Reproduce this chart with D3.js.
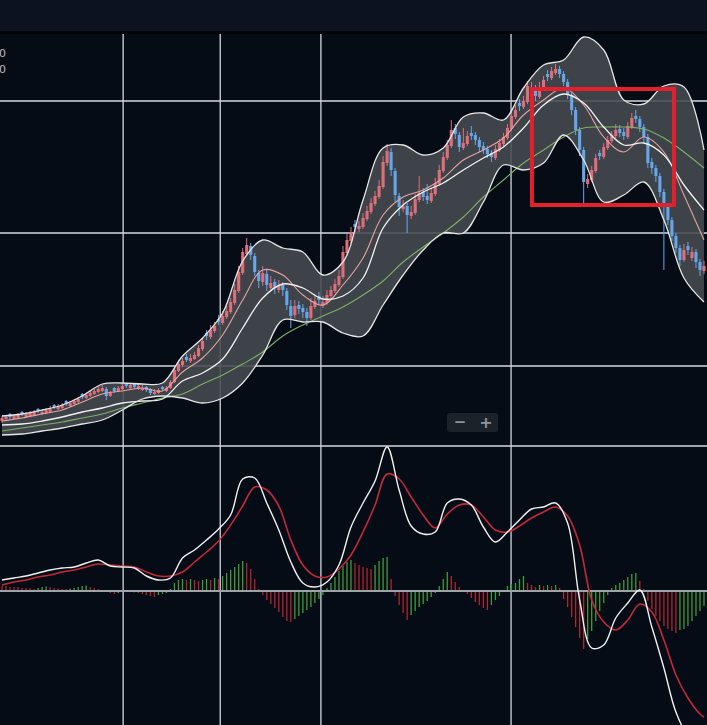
<!DOCTYPE html>
<html>
<head>
<meta charset="utf-8">
<script src="https://cdn.jsdelivr.net/npm/d3@7"></script>
<style>
  html, body { margin: 0; padding: 0; background: #060c16; overflow: hidden; }
</style>
</head>
<body>
<div id="chart"></div>
<script>
// candles: [open, high, low, close]
var candles = [
  [25,30,23,28],[27,31,25,29],[32,33,27,29],[27,32,26,30],[28,33,27,31],[34,35,30,32],[29,34,28,32],[30,35,29,33],
  [31,36,30,34],[37,38,33,35],[32,36,31,34],[33,38,32,36],[34,40,33,37],[41,42,37,39],[37,42,36,40],[38,43,37,41],
  [45,46,40,42],[40,45,39,43],[42,47,41,45],[44,49,43,47],[52,53,47,49],[48,53,47,51],[50,55,49,53],[52,57,51,55],
  [54,60,53,57],[55,61,54,58],[57,59,46,50],[50,55,49,53],[58,59,53,55],[55,60,54,58],[57,62,56,60],[62,63,58,60],
  [58,63,57,61],[62,63,57,59],[57,62,56,60],[56,61,55,58],[59,60,54,56],[57,58,51,53],[52,57,51,54],[53,58,52,56],
  [59,60,55,57],[55,60,54,58],[58,66,57,64],[64,80,63,76],[75,86,74,82],[81,88,79,85],[89,92,84,86],[85,92,83,88],
  [87,94,86,91],[90,101,89,98],[97,108,95,105],[113,116,106,110],[109,121,107,116],[115,124,113,120],[127,131,121,124],[123,135,121,130],
  [129,140,127,135],[134,148,132,144],[143,162,141,156],[155,180,153,174],[173,198,171,194],[192,208,190,201],[200,203,186,191],[190,193,170,174],
  [173,176,158,165],[164,180,160,173],[172,176,155,161],[158,170,155,163],[164,167,152,158],[156,166,153,160],[161,164,150,156],[155,158,136,141],
  [140,146,118,130],[131,146,128,140],[141,145,132,137],[138,142,128,134],[134,138,120,128],[128,148,126,140],[139,152,137,145],[150,154,142,146],
  [140,150,138,144],[143,156,141,151],[150,160,148,156],[155,167,153,162],[161,176,159,170],[169,200,167,194],[193,212,190,206],[205,219,202,214],
  [222,226,214,219],[217,225,214,220],[219,233,217,228],[227,240,225,235],[234,248,232,243],[242,255,240,250],[249,266,247,260],[259,290,257,284],
  [283,302,280,295],[294,298,270,276],[275,278,244,251],[250,253,230,239],[237,246,234,240],[240,243,213,231],[230,240,227,234],[233,252,231,247],
  [246,270,244,253],[254,258,245,249],[250,262,242,246],[245,258,243,253],[252,268,250,263],[262,281,260,276],[275,294,273,289],[288,306,286,301],
  [300,326,298,316],[318,322,307,312],[311,314,294,299],[298,318,296,303],[302,315,300,310],[313,320,306,310],[311,314,301,306],[306,309,294,299],
  [300,304,292,296],[297,300,288,292],[293,296,284,289],[288,301,286,297],[296,307,294,303],[302,313,300,309],[308,322,306,318],[317,335,315,330],
  [329,341,327,336],[343,347,335,340],[339,350,337,345],[344,365,342,360],[352,364,350,359],[358,361,345,350],[349,364,347,359],[358,370,356,366],
  [372,376,365,369],[368,379,366,375],[373,382,371,377],[377,380,368,372],[372,375,360,364],[364,367,347,351],[351,354,331,336],[336,339,311,316],
  [316,319,290,296],[296,299,241,264],[262,272,258,267],[266,280,264,276],[275,292,273,288],[293,296,286,290],[289,303,287,299],[298,310,296,306],
  [305,315,303,311],[310,322,308,316],[317,321,309,313],[314,318,306,310],[309,324,307,320],[319,333,317,328],[330,336,323,327],[327,330,314,319],
  [319,322,304,309],[309,312,278,283],[284,288,272,278],[278,281,264,270],[270,273,249,254],[254,257,176,240],[240,243,221,226],[226,229,205,210],
  [210,213,193,198],[198,201,180,186],[186,202,184,196],[200,204,191,196],[188,199,185,194],[194,197,178,184],[184,187,170,176],[175,185,172,180]
];

// bollinger / moving averages, one value every 5th candle
var bollUpper = [30,32,36,41,50,62,63,62,63,90,108,133,185,206,198,194,171,184,246,298,301,291,298,329,333,326,358,381,386,409,396,346,342,360,359,296];
var bollLower = [11,12,15,18,22,26,36,47,50,48,43,48,63,91,126,124,124,113,110,141,171,196,213,213,244,281,276,283,311,286,244,251,264,226,168,144];
var bollMid   = [21,22,25,29,34,38,43,45,47,65,73,87,118,148,162,158,147,150,168,218,241,254,263,276,288,299,318,341,352,343,319,301,303,291,261,236];
var maFast    = [25,28,32,36,44,52,55,58,55,74,88,111,146,176,171,151,141,161,188,231,249,256,268,286,296,308,331,346,358,341,309,294,309,294,251,206];
var maSlow    = [15,18,21,24,28,32,38,43,48,52,62,71,82,94,110,121,130,139,151,165,184,199,213,229,249,266,283,296,309,318,319,319,317,308,294,278];

// MACD lines, one value every 3rd candle (last one = last candle)
var macdDif = [11,13,15,18,21,23,24,28,31,25,24,23,15,11,13,33,41,51,62,76,112,113,88,61,29,8,4,9,26,64,
               88,110,144,101,65,57,59,88,92,86,64,49,59,71,82,84,88,68,-9,-57,-54,-27,-12,1,-36,-77,-121,-144,-149,-147];
var macdDea = [6,9,11,14,16,19,21,24,27,26,25,24,19,15,15,19,29,39,50,66,85,104,101,85,51,26,15,14,22,36,
               59,86,117,112,94,76,63,77,86,86,74,61,59,65,73,79,84,75,46,-9,-31,-39,-29,-13,-21,-49,-84,-107,-123,-126];

// MACD histogram, one bar per candle
var macdHist = [
  5,5,4,4,4,3,3,3, 2,3,4,4.5,4,3,2.5,2, 2,2.5,3,4,5,5.5,4,3, 2,0.5,-1,-2,-3,-2,-1,-0.5,
  -1,-1.5,-2,-3,-4,-5,-6,-4, -3,-2,2,8,11,12,11,12, 11,10,11,12,11,13,12,15, 18,21,24,27,30,28,22,12,
  2,-4,-9,-13,-17,-21,-26,-30, -31,-28,-25,-22,-19,-16,-12,-8, -4,3,8,14,20,25,29,31, 28,26,24,23,22,26,30,33,
  34,12,-5,-14,-22,-29,-24,-20, -16,-13,-10,-6,-2,5,12,19, 15,9,4,1,-3,-7,-11,-14, -17,-19,-14,-9,-5,-1,5,7,
  8,12,15,8,6,4,6,5, 6,5,6,3,-8,-16,-26,-36, -47,-58,-48,-40,-30,-20,-12,-4, 3,6,8,11,14,17,18,10,
  2,-10,-18,-25,-30,-35,-38,-40, -42,-39,-38,-35,-30,-25,-20,-15
];

var priceGrid = [80, 213, 345];
var dateGrid = [30.2, 54.4, 79.5, 126.9];   // candle positions of the date lines
var highlight = { from: 132.1, to: 167.5, top: 357, bottom: 241 };

function init() {
    var W = 707, H = 725;
    var svg = d3.select("#chart").append("svg")
                .attr("width", W)
                .attr("height", H);

    svg.append("rect").attr("width", W).attr("height", H).attr("fill", "#060c16");
    // header strip
    svg.append("rect").attr("width", W).attr("height", 31).attr("fill", "#0b1320");
    svg.append("rect").attr("y", 31).attr("width", W).attr("height", 3).attr("fill", "#010306");

    var n = candles.length;
    var x = d3.scaleLinear().domain([0, n - 1]).range([2, 704]);
    var y = d3.scaleLinear().domain([0, 412]).range([446, 34]);
    var ym = d3.scaleLinear().domain([-134, 145]).range([725, 446]);

    var defs = svg.append("defs");
    defs.append("clipPath").attr("id", "clipMain")
        .append("rect").attr("x", 0).attr("y", y(412)).attr("width", W).attr("height", y(0) - y(412));
    defs.append("clipPath").attr("id", "clipMacd")
        .append("rect").attr("x", 0).attr("y", ym(145)).attr("width", W).attr("height", ym(-134) - ym(145));

    // grid
    var grid = svg.append("g");
    grid.selectAll("line.v").data(dateGrid).enter().append("line")
        .attr("x1", d => x(d)).attr("x2", d => x(d))
        .attr("y1", y(412)).attr("y2", H)
        .attr("stroke", "#d4d8de").attr("stroke-width", 1.3);
    grid.selectAll("line.h").data(priceGrid.concat([0])).enter().append("line")
        .attr("x1", 0).attr("x2", W)
        .attr("y1", d => y(d)).attr("y2", d => y(d))
        .attr("stroke", "#d4d8de").attr("stroke-width", 1.3);

    var main = svg.append("g").attr("clip-path", "url(#clipMain)");

    var bandIdx = d3.range(0, n, 5);
    var curve = d3.curveCatmullRom.alpha(0.5);

    var area = d3.area()
        .x((d, k) => x(bandIdx[k]))
        .y0((d, k) => y(bollLower[k]))
        .y1((d, k) => y(bollUpper[k]))
        .curve(curve);
    main.append("path").datum(bollUpper)
        .attr("d", area)
        .attr("fill", "#464b50").attr("fill-opacity", 0.88);

    // candles
    var upCol = "#de6f7a", downCol = "#66a6ea";
    var cw = 3.1;
    var cg = main.append("g");
    cg.selectAll("line").data(candles).enter().append("line")
        .attr("x1", (d, i) => x(i)).attr("x2", (d, i) => x(i))
        .attr("y1", d => y(d[1])).attr("y2", d => y(d[2]))
        .attr("stroke", d => d[3] >= d[0] ? upCol : downCol)
        .attr("stroke-width", 1);
    cg.selectAll("rect").data(candles).enter().append("rect")
        .attr("x", (d, i) => x(i) - cw / 2)
        .attr("width", cw)
        .attr("y", d => y(Math.max(d[0], d[3])))
        .attr("height", d => Math.max(1.5, Math.abs(y(d[0]) - y(d[3]))))
        .attr("fill", d => d[3] >= d[0] ? upCol : downCol);

    // band edges and averages
    function bandLine(vals, color, width) {
        var line = d3.line()
            .x((d, k) => x(bandIdx[k]))
            .y(d => y(d))
            .curve(curve);
        main.append("path").datum(vals)
            .attr("d", line)
            .attr("fill", "none")
            .attr("stroke", color)
            .attr("stroke-width", width);
    }
    bandLine(maSlow, "#7fae6a", 1.1);
    bandLine(maFast, "#e4a3a0", 1.1);
    bandLine(bollMid, "#f2f2f2", 1.3);
    bandLine(bollUpper, "#e6e6e6", 1.3);
    bandLine(bollLower, "#e6e6e6", 1.3);

    // highlight box
    svg.append("rect")
        .attr("x", x(highlight.from)).attr("y", y(highlight.top))
        .attr("width", x(highlight.to) - x(highlight.from))
        .attr("height", y(highlight.bottom) - y(highlight.top))
        .attr("fill", "none").attr("stroke", "#e3202c").attr("stroke-width", 4);

    // MACD panel
    var macd = svg.append("g").attr("clip-path", "url(#clipMacd)");
    macd.selectAll("line.bar").data(macdHist).enter().append("line")
        .attr("x1", (d, i) => x(i)).attr("x2", (d, i) => x(i))
        .attr("y1", ym(0)).attr("y2", d => ym(d))
        .attr("stroke", (d, i) => (i > 0 && d > macdHist[i - 1]) ? "#3f9a3a" : "#b0242f")
        .attr("stroke-width", 1.3);

    macd.append("line")
        .attr("x1", 0).attr("x2", W)
        .attr("y1", ym(0)).attr("y2", ym(0))
        .attr("stroke", "#9ea3a8").attr("stroke-width", 2);

    var macdIdx = d3.range(macdDif.length).map(k => Math.min(3 * k, n - 1));
    function macdLine(vals, color, width) {
        var line = d3.line()
            .x((d, k) => x(macdIdx[k]))
            .y(d => ym(d))
            .curve(curve);
        macd.append("path").datum(vals)
            .attr("d", line)
            .attr("fill", "none")
            .attr("stroke", color)
            .attr("stroke-width", width);
    }
    macdLine(macdDea, "#c4283a", 1.6);
    macdLine(macdDif, "#f0f0f0", 1.4);

    // zoom buttons
    var zb = svg.append("g").attr("transform", "translate(447,413)");
    zb.append("rect").attr("width", 51).attr("height", 19).attr("rx", 3).attr("fill", "#1b222a");
    zb.append("text").attr("x", 13).attr("y", 14).attr("text-anchor", "middle")
        .attr("font-family", "DejaVu Sans").attr("font-size", 15).attr("font-weight", "bold")
        .attr("fill", "#8d939b").text("\u2212");
    zb.append("text").attr("x", 39).attr("y", 14.5).attr("text-anchor", "middle")
        .attr("font-family", "DejaVu Sans").attr("font-size", 16).attr("font-weight", "bold")
        .attr("fill", "#8d939b").text("+");

    // clipped legend values at the left edge
    svg.selectAll("text.leg").data(["0", "0"]).enter().append("text")
        .attr("x", -1).attr("y", (d, i) => 57 + i * 16)
        .attr("font-family", "DejaVu Sans").attr("font-size", 11)
        .attr("fill", "#b8bcc2").text(d => d);
}

window.onload = init;
</script>
</body>
</html>
